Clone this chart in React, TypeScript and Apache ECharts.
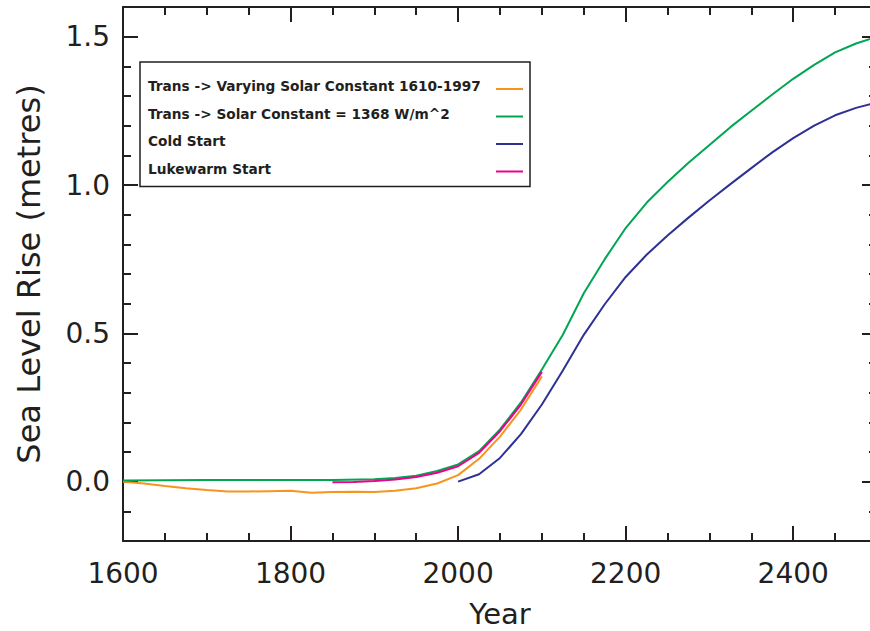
import React, { useEffect, useRef } from "react";
import * as echarts from "echarts";

const orangeYears = [1600, 1625, 1650, 1675, 1700, 1725, 1750, 1775, 1800, 1825, 1850, 1875, 1900, 1925, 1950, 1975, 2000, 2025, 2050, 2075, 2100];
const orangeValues = [0.0, -0.006, -0.015, -0.022, -0.028, -0.033, -0.033, -0.032, -0.031, -0.037, -0.035, -0.034, -0.035, -0.031, -0.022, -0.006, 0.022, 0.077, 0.152, 0.243, 0.355];

const greenYears = [1600, 1650, 1700, 1750, 1800, 1850, 1900, 1925, 1950, 1975, 2000, 2025, 2050, 2075, 2100, 2125, 2150, 2175, 2200, 2225, 2250, 2275, 2300, 2325, 2350, 2375, 2400, 2425, 2450, 2475, 2500];
const greenValues = [0.004, 0.005, 0.006, 0.006, 0.006, 0.006, 0.008, 0.012, 0.02, 0.036, 0.058, 0.103, 0.176, 0.267, 0.378, 0.495, 0.635, 0.75, 0.855, 0.94, 1.01, 1.075, 1.135, 1.195, 1.25, 1.305, 1.358, 1.405, 1.447, 1.477, 1.5];

const blueYears = [2000, 2025, 2050, 2075, 2100, 2125, 2150, 2175, 2200, 2225, 2250, 2275, 2300, 2325, 2350, 2375, 2400, 2425, 2450, 2475, 2500];
const blueValues = [0.0, 0.025, 0.08, 0.16, 0.26, 0.375, 0.495, 0.598, 0.69, 0.765, 0.83, 0.89, 0.948, 1.003, 1.057, 1.11, 1.158, 1.2, 1.235, 1.26, 1.278];

const pinkYears = [1850, 1875, 1900, 1925, 1950, 1975, 2000, 2025, 2050, 2075, 2100];
const pinkValues = [-0.002, -0.001, 0.002, 0.007, 0.016, 0.03, 0.052, 0.097, 0.17, 0.26, 0.37];

const seriesNames = [
  "Trans -> Varying Solar Constant 1610-1997",
  "Trans -> Solar Constant = 1368 W/m^2",
  "Cold Start",
  "Lukewarm Start",
];
const seriesColors = ["#f7941d", "#00a651", "#2e3192", "#ec008c"];
const yLabelValues = [0, 0.5, 1.0, 1.5];

const INK = "#231f20";
const FONT = "DejaVu Sans";

function zip(xs: number[], ys: number[]) {
  return xs.map((x, i) => [x, ys[i]]);
}

export default function App() {
  const ref = useRef<HTMLDivElement>(null);
  useEffect(() => {
    if (!ref.current) return;
    const chart = echarts.init(ref.current, undefined, { renderer: "svg" });
    const lineAxis = { show: true, onZero: false, lineStyle: { color: INK, width: 2 } };
    const majorTick = { show: true, inside: true, length: 15, lineStyle: { color: INK, width: 2 } };
    const xMinor = { show: true, splitNumber: 4, length: 8, lineStyle: { color: INK, width: 2 } };
    const yMinor = { show: true, splitNumber: 5, length: 8, lineStyle: { color: INK, width: 2 } };
    const xBase = {
      type: "value",
      min: 1600,
      max: 2500,
      interval: 200,
      splitLine: { show: false },
      minorTick: xMinor,
      minorSplitLine: { show: false },
    };
    const yBase = {
      type: "value",
      min: -0.2,
      max: 1.6,
      splitNumber: 3,
      minInterval: 0.5,
      maxInterval: 0.5,
      splitLine: { show: false },
      minorTick: yMinor,
      minorSplitLine: { show: false },
    };
    const mk = (name: string, years: number[], vals: number[], color: string, z: number) => ({
      name,
      type: "line",
      data: zip(years, vals),
      showSymbol: false,
      symbol: "none",
      z,
      lineStyle: { color, width: 2 },
      itemStyle: { color },
    });
    chart.setOption({
      animation: false,
      backgroundColor: "#ffffff",
      grid: { left: 123, top: 7, width: 754, height: 534, containLabel: false, outerBoundsMode: "none" },
      legend: {
        orient: "vertical",
        left: 140,
        top: 62,
        align: "right",
        padding: [17, 7, 5, 8],
        itemGap: 7.5,
        itemWidth: 27,
        itemHeight: 2,
        icon: "rect",
        borderColor: INK,
        borderWidth: 1.5,
        backgroundColor: "#ffffff",
        selectedMode: false,
        z: 10,
        data: seriesNames.map((n, i) => ({ name: n, itemStyle: { color: seriesColors[i] } })),
        formatter: (n: string) => `{a|${n}}`,
        textStyle: {
          fontFamily: FONT,
          fontSize: 13.7,
          fontWeight: "bold",
          color: INK,
          rich: {
            a: {
              width: 343,
              align: "left",
              fontFamily: FONT,
              fontSize: 13.7,
              fontWeight: "bold",
              color: INK,
              lineHeight: 14,
              padding: [0, 0, 6, 0],
            },
          },
        },
      },
      xAxis: [
        {
          ...xBase,
          position: "bottom",
          axisLine: lineAxis,
          axisTick: majorTick,
          axisLabel: {
            fontSize: 28,
            fontFamily: FONT,
            color: INK,
            margin: 18,
            showMaxLabel: false,
            formatter: (v: number) => String(v),
          },
          name: "Year",
          nameLocation: "middle",
          nameGap: 58,
          nameTextStyle: { fontSize: 29, lineHeight: 29, fontFamily: FONT, color: INK },
        },
        { ...xBase, position: "top", axisLine: lineAxis, axisTick: majorTick, axisLabel: { show: false } },
      ],
      yAxis: [
        {
          ...yBase,
          position: "left",
          axisLine: lineAxis,
          axisTick: { ...majorTick, customValues: yLabelValues },
          axisLabel: {
            customValues: yLabelValues,
            formatter: (v: number) => v.toFixed(1),
            fontSize: 28,
            fontFamily: FONT,
            color: INK,
            margin: 13,
          },
          name: "Sea Level Rise (metres)",
          nameLocation: "middle",
          nameGap: 78,
          nameTextStyle: { fontSize: 32, fontFamily: FONT, color: INK },
        },
        { ...yBase, position: "right", axisLine: lineAxis, axisTick: { ...majorTick, customValues: yLabelValues }, axisLabel: { show: false } },
      ],
      series: [
        mk(seriesNames[0], orangeYears, orangeValues, seriesColors[0], 2),
        mk(seriesNames[1], greenYears, greenValues, seriesColors[1], 3),
        mk(seriesNames[2], blueYears, blueValues, seriesColors[2], 4),
        mk(seriesNames[3], pinkYears, pinkValues, seriesColors[3], 5),
      ],
    });
    return () => chart.dispose();
  }, []);
  return (
    <div style={{ position: "fixed", left: 0, top: 0, width: 870, height: 631, overflow: "hidden", background: "#fff" }}>
      <div ref={ref} style={{ width: 880, height: 631 }} />
    </div>
  );
}
